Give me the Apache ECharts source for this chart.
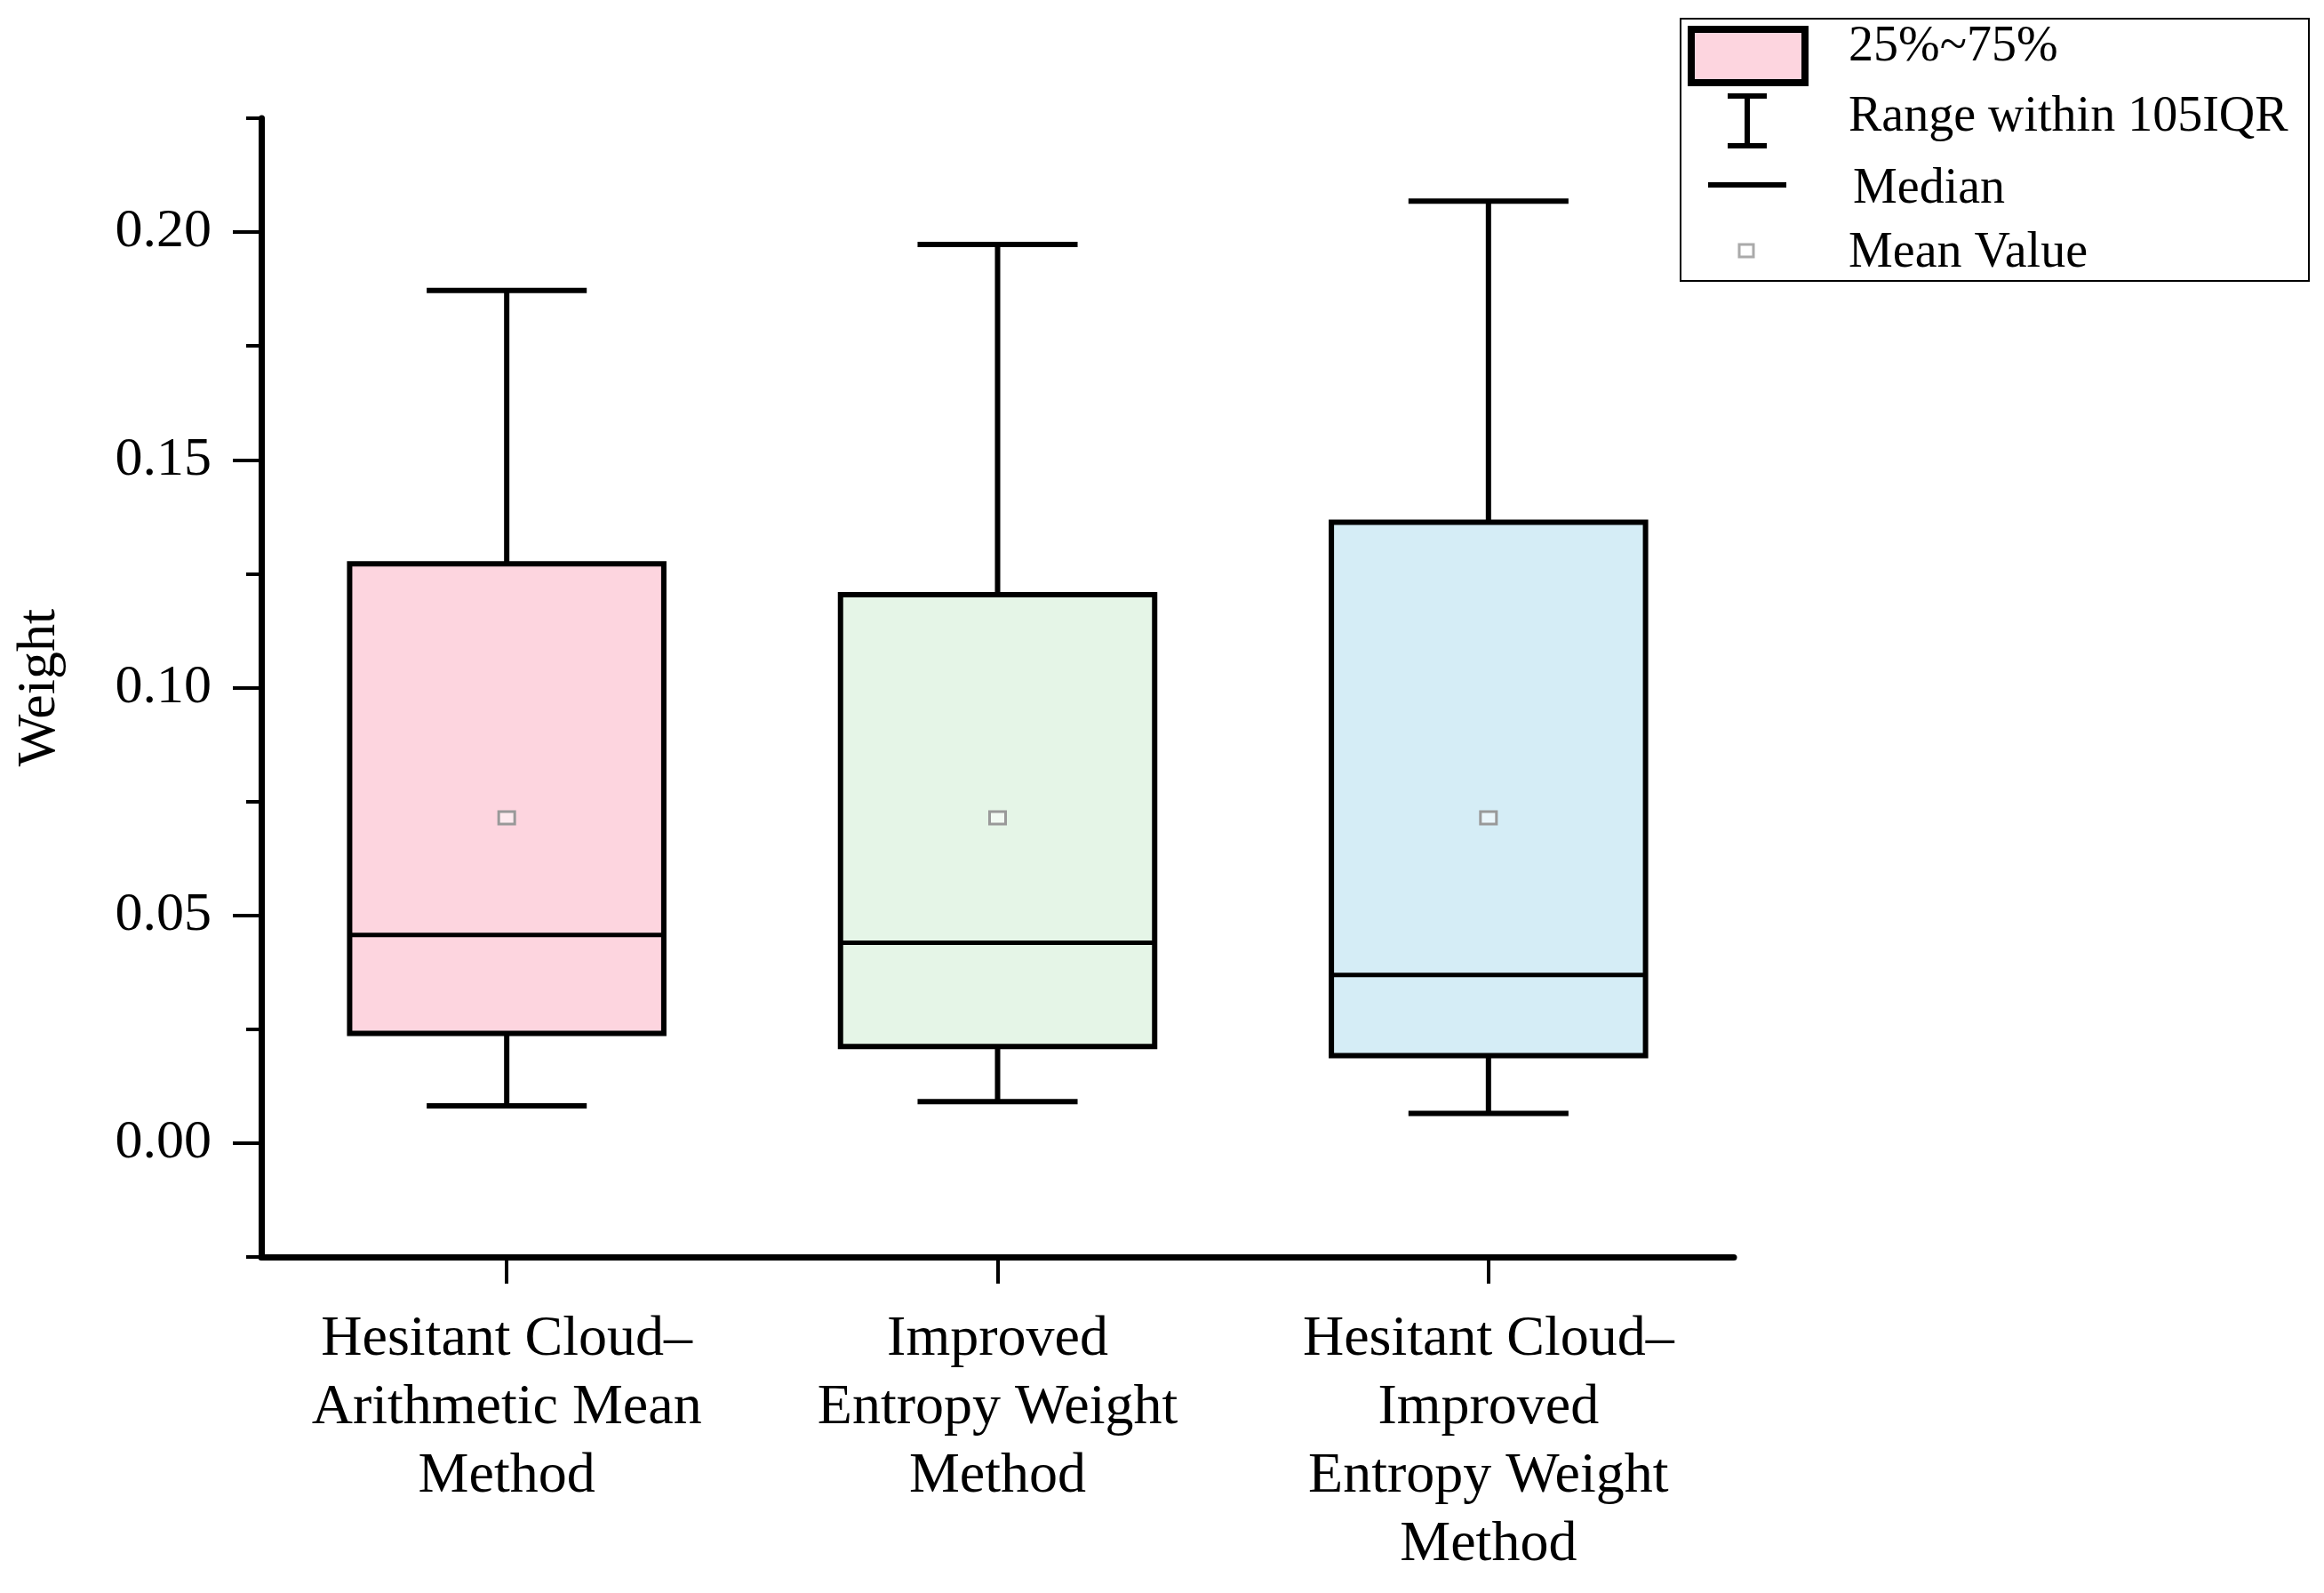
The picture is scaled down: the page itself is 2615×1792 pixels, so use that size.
<!DOCTYPE html>
<html>
<head>
<meta charset="utf-8">
<script src="https://cdn.jsdelivr.net/npm/echarts@6/dist/echarts.min.js"></script>
<style>
  html, body { margin: 0; padding: 0; background: #fff; }
  #main { width: 2615px; height: 1792px; }
</style>
</head>
<body>
<div id="main"></div>
<script>
// categories
const methods = [
  "Hesitant Cloud–\nArithmetic Mean\nMethod",
  "Improved\nEntropy Weight\nMethod",
  "Hesitant Cloud–\nImproved\nEntropy Weight\nMethod"
];
// box statistics, one entry per method
const whiskerLow = [0.0082, 0.0091, 0.0065];
const quartile1 = [0.0241, 0.0212, 0.0192];
const medians = [0.0457, 0.0440, 0.0369];
const quartile3 = [0.1272, 0.1204, 0.1363];
const whiskerHigh = [0.1872, 0.1973, 0.2068];
const means = [0.0714, 0.0714, 0.0714];
// y ticks
const majorTicks = [0, 0.05, 0.10, 0.15, 0.20];
const legendLabels = ["25%~75%", "Range within 105IQR", "Median", "Mean Value"];

const boxColors = ["#FDD5DF", "#E5F5E7", "#D5EDF6"];
const FONT = "Liberation Serif";

const chart = echarts.init(document.getElementById("main"));

const seriesData = methods.map((m, i) => [
  i, whiskerLow[i], quartile1[i], medians[i], quartile3[i], whiskerHigh[i], means[i]
]);

function renderBox(params, api) {
  const idx = api.value(0);
  const band = api.size([1, 0])[0];
  const boxHalf = band * 0.32;
  const capHalf = band * 0.163;
  const pLow = api.coord([idx, api.value(1)]);
  const pQ1 = api.coord([idx, api.value(2)]);
  const pMed = api.coord([idx, api.value(3)]);
  const pQ3 = api.coord([idx, api.value(4)]);
  const pHigh = api.coord([idx, api.value(5)]);
  const pMean = api.coord([idx, api.value(6)]);
  const x = pQ1[0];
  const line = { stroke: "#000", lineWidth: 6 };
  return {
    type: "group",
    children: [
      { type: "line", shape: { x1: x, y1: pQ3[1], x2: x, y2: pHigh[1] }, style: line },
      { type: "line", shape: { x1: x - capHalf, y1: pHigh[1], x2: x + capHalf, y2: pHigh[1] }, style: line },
      { type: "line", shape: { x1: x, y1: pQ1[1], x2: x, y2: pLow[1] }, style: line },
      { type: "line", shape: { x1: x - capHalf, y1: pLow[1], x2: x + capHalf, y2: pLow[1] }, style: line },
      {
        type: "rect",
        shape: { x: x - boxHalf, y: pQ3[1], width: boxHalf * 2, height: pQ1[1] - pQ3[1] },
        style: { fill: boxColors[idx], stroke: "#000", lineWidth: 6 }
      },
      { type: "line", shape: { x1: x - boxHalf, y1: pMed[1], x2: x + boxHalf, y2: pMed[1] }, style: { stroke: "#000", lineWidth: 5 } },
      {
        type: "rect",
        shape: { x: pMean[0] - 9, y: pMean[1] - 7, width: 18, height: 14 },
        style: { fill: "rgba(255,255,255,0.5)", stroke: "#999", lineWidth: 3 }
      }
    ]
  };
}

const legendX = 1890, legendY = 20;
const option = {
  backgroundColor: "#fff",
  animation: false,
  grid: { left: 294, top: 133, width: 1657, height: 1281, outerBoundsMode: "none" },
  xAxis: {
    type: "category",
    data: methods,
    boundaryGap: true,
    axisLine: { onZero: false, lineStyle: { color: "#000", width: 7 } },
    axisTick: { show: true, interval: 0, alignWithLabel: true, length: 30, lineStyle: { color: "#000", width: 4 } },
    axisLabel: {
      color: "#000", fontFamily: FONT, fontSize: 64, lineHeight: 77,
      margin: 55, verticalAlign: "top", interval: 0
    }
  },
  yAxis: [
    {
      type: "value",
      min: -0.025, max: 0.225, interval: 0.025,
      name: "Weight",
      nameLocation: "middle",
      nameGap: 218,
      nameRotate: 90,
      nameTextStyle: { color: "#000", fontFamily: FONT, fontSize: 62 },
      splitLine: { show: false },
      axisLine: { show: true, onZero: false, lineStyle: { color: "#000", width: 7 } },
      axisTick: { show: true, length: 17, lineStyle: { color: "#000", width: 4 } },
      axisLabel: {
        color: "#000", fontFamily: FONT, fontSize: 62, margin: 56,
        formatter: (v) => {
          const k = Math.round(v * 1000);
          return (k >= 0 && k % 50 === 0) ? (k / 1000).toFixed(2) : "";
        }
      }
    },
    {
      type: "value",
      min: -0.025, max: 0.225,
      position: "left",
      splitLine: { show: false },
      axisLine: { show: false },
      axisLabel: { show: false },
      axisTick: { show: true, customValues: majorTicks, length: 32, lineStyle: { color: "#000", width: 4 } }
    }
  ],
  series: [
    {
      type: "custom",
      xAxisIndex: 0,
      yAxisIndex: 0,
      renderItem: renderBox,
      encode: { x: 0, y: [1, 2, 3, 4, 5, 6] },
      data: seriesData
    }
  ],
  graphic: [
    {
      type: "rect", left: legendX, top: legendY,
      shape: { width: 707, height: 295 },
      style: { fill: "#fff", stroke: "#000", lineWidth: 2 }
    },
    {
      type: "rect", left: legendX + 9, top: legendY + 9,
      shape: { width: 128, height: 60 },
      style: { fill: boxColors[0], stroke: "#000", lineWidth: 8 }
    },
    { type: "line", shape: { x1: 1966, y1: 108, x2: 1966, y2: 164 }, style: { stroke: "#000", lineWidth: 6 } },
    { type: "line", shape: { x1: 1944, y1: 108, x2: 1988, y2: 108 }, style: { stroke: "#000", lineWidth: 6 } },
    { type: "line", shape: { x1: 1944, y1: 164, x2: 1988, y2: 164 }, style: { stroke: "#000", lineWidth: 6 } },
    { type: "line", shape: { x1: 1922, y1: 208, x2: 2010, y2: 208 }, style: { stroke: "#000", lineWidth: 6 } },
    { type: "rect", shape: { x: 1957, y: 275, width: 16, height: 14 }, style: { fill: "#fff", stroke: "#aaa", lineWidth: 3 } },
    ...legendLabels.map((t, i) => ({
      type: "text",
      x: [2080, 2080, 2085, 2080][i],
      y: [53, 132, 213, 285][i],
      style: { text: t, fill: "#000", font: "56px " + FONT, verticalAlign: "middle", align: "left" }
    }))
  ]
};

chart.setOption(option);
</script>
</body>
</html>
